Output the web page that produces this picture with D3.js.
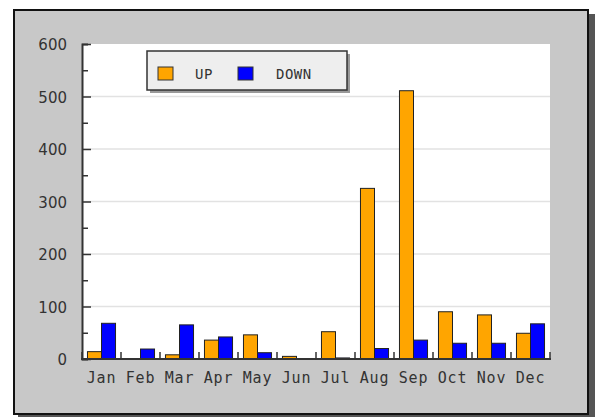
<!DOCTYPE html>
<html>
<head>
<meta charset="utf-8">
<script src="https://cdn.jsdelivr.net/npm/d3@7"></script>
<style>
  body { margin: 0; background: #ffffff; }
  svg { display: block; }
</style>
</head>
<body>
<div id="chart"></div>
<script>
// chart data
const months = ["Jan", "Feb", "Mar", "Apr", "May", "Jun", "Jul", "Aug", "Sep", "Oct", "Nov", "Dec"];
const series = ["UP", "DOWN"];
const upValues = [14, 0, 8, 36, 46, 5, 52, 325, 511, 90, 84, 49];
const downValues = [68, 19, 65, 42, 12, 0, 2, 20, 36, 30, 30, 67];
const yTicks = [0, 100, 200, 300, 400, 500, 600];
const colors = { UP: "#ffa500", DOWN: "#0000ff" };

const width = 595;
const height = 417;

const svg = d3.select("#chart")
    .append("svg")
    .attr("width", width)
    .attr("height", height);

// outer frame + shadow
svg.append("rect")
    .attr("x", 589).attr("y", 14)
    .attr("width", 6).attr("height", 403)
    .attr("fill", "#555555");
svg.append("rect")
    .attr("x", 18).attr("y", 415)
    .attr("width", 577).attr("height", 4)
    .attr("fill", "#555555");
svg.append("rect")
    .attr("x", 14).attr("y", 10)
    .attr("width", 574).attr("height", 404)
    .attr("fill", "#c8c8c8")
    .attr("stroke", "#111111")
    .attr("stroke-width", 2);

const plot = { left: 82, right: 550, top: 44, bottom: 359 };

let x = d3.scaleBand().domain(months).range([plot.left, plot.right]).padding(0);
let xSub = d3.scaleBand().domain(series).range([0, x.bandwidth()]).paddingInner(0).paddingOuter(0.39);
let y = d3.scaleLinear().domain([0, 600]).range([plot.bottom, plot.top]);

// plot background
svg.append("rect")
    .attr("x", plot.left).attr("y", plot.top)
    .attr("width", plot.right - plot.left).attr("height", plot.bottom - plot.top)
    .attr("fill", "#ffffff");

// grid lines
svg.append("g")
    .selectAll("line")
    .data(yTicks.filter(d => d > 0 && d < 600))
    .join("line")
    .attr("x1", plot.left).attr("x2", plot.right)
    .attr("y1", d => y(d)).attr("y2", d => y(d))
    .attr("stroke", "#e2e2e2")
    .attr("stroke-width", 1.5);

// bars
const data = months.map((m, i) => ({ month: m, UP: upValues[i], DOWN: downValues[i] }));

svg.append("g")
    .selectAll("g")
    .data(data)
    .join("g")
    .attr("transform", d => `translate(${x(d.month)},0)`)
    .selectAll("rect")
    .data(d => series.map(s => ({ key: s, value: d[s] })).filter(d => d.value > 0))
    .join("rect")
    .attr("x", d => xSub(d.key))
    .attr("y", d => y(d.value))
    .attr("width", xSub.bandwidth())
    .attr("height", d => y(0) - y(d.value))
    .attr("fill", d => colors[d.key])
    .attr("stroke", "#222222")
    .attr("stroke-width", 1);

// y axis
const yAxis = svg.append("g")
    .attr("transform", `translate(${plot.left},0)`)
    .call(d3.axisRight(y).tickValues(d3.range(0, 650, 50)).tickSize(6).tickFormat(""));
yAxis.select(".domain").attr("stroke", "#333333").attr("stroke-width", 2);
yAxis.selectAll(".tick line")
    .attr("stroke", "#333333")
    .attr("stroke-width", 1.5)
    .attr("x2", d => d % 100 === 0 ? 9 : 6);

svg.append("g")
    .selectAll("text")
    .data(yTicks)
    .join("text")
    .attr("x", 67)
    .attr("y", d => y(d))
    .attr("dy", "0.4em")
    .attr("text-anchor", "end")
    .attr("font-family", "DejaVu Sans, sans-serif")
    .attr("font-size", 15)
    .attr("fill", "#333333")
    .text(d => d);

// x axis
svg.append("line")
    .attr("x1", plot.left - 1).attr("x2", plot.right + 1)
    .attr("y1", plot.bottom).attr("y2", plot.bottom)
    .attr("stroke", "#333333")
    .attr("stroke-width", 2);

svg.append("g")
    .selectAll("line")
    .data(months.map(m => x(m)).concat([plot.right]))
    .join("line")
    .attr("x1", d => d).attr("x2", d => d)
    .attr("y1", plot.bottom).attr("y2", plot.bottom - 7)
    .attr("stroke", "#333333")
    .attr("stroke-width", 1.5);

svg.append("g")
    .selectAll("text")
    .data(months)
    .join("text")
    .attr("x", d => x(d) + x.bandwidth() / 2)
    .attr("y", 383)
    .attr("text-anchor", "middle")
    .attr("font-family", "DejaVu Sans Mono, monospace")
    .attr("font-size", 15)
    .attr("letter-spacing", 0.8)
    .attr("fill", "#333333")
    .text(d => d);

// legend
const legend = svg.append("g");
legend.append("rect")
    .attr("x", 150).attr("y", 54)
    .attr("width", 200).attr("height", 39)
    .attr("fill", "#999999");
legend.append("rect")
    .attr("x", 147).attr("y", 51)
    .attr("width", 200).attr("height", 39)
    .attr("fill", "#eeeeee")
    .attr("stroke", "#333333")
    .attr("stroke-width", 1.5);

const legendItems = [
    { key: series[0], sx: 158, tx: 195 },
    { key: series[1], sx: 238, tx: 276 }
];
legend.selectAll(".sw")
    .data(legendItems)
    .join("rect")
    .attr("class", "sw")
    .attr("x", d => d.sx).attr("y", 67)
    .attr("width", 15).attr("height", 13)
    .attr("fill", d => colors[d.key])
    .attr("stroke", "#333333")
    .attr("stroke-width", 1);
legend.selectAll(".lt")
    .data(legendItems)
    .join("text")
    .attr("class", "lt")
    .attr("x", d => d.tx).attr("y", 79)
    .attr("font-family", "DejaVu Sans Mono, monospace")
    .attr("font-size", 14)
    .attr("letter-spacing", 0.5)
    .attr("fill", "#333333")
    .text(d => d.key);
</script>
</body>
</html>
